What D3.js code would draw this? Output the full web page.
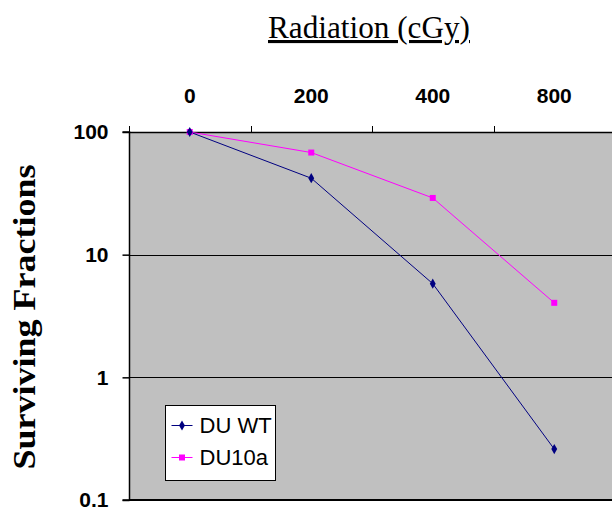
<!DOCTYPE html>
<html>
<head>
<meta charset="utf-8">
<script src="https://cdn.jsdelivr.net/npm/d3@7"></script>
<style>
  body { margin: 0; background: #fff; }
  svg { display: block; }
</style>
</head>
<body>
<div class="chart"></div>
<script>
// chart values
var doses = ["0", "200", "400", "800"];
var duWT = [100, 42, 5.8, 0.26];
var du10a = [100, 68, 29, 4.05];
var yTicks = [100, 10, 1, 0.1];

var width = 612, height = 510;
var margin = { top: 132, bottom: 10, left: 129, right: -3 };

var svg = d3.select(".chart").append("svg")
    .attr("width", width)
    .attr("height", height);

var x = d3.scaleBand()
    .domain(doses)
    .range([margin.left, width - margin.right]);

var y = d3.scaleLog()
    .domain([0.1, 100])
    .range([height - margin.bottom, margin.top]);

// plot background
svg.append("rect")
    .attr("x", margin.left)
    .attr("y", margin.top)
    .attr("width", width - margin.right - margin.left)
    .attr("height", height - margin.bottom - margin.top)
    .attr("fill", "#c0c0c0");

// gridlines
svg.append("g")
    .selectAll("line")
    .data([10, 1])
    .enter().append("line")
    .attr("x1", margin.left)
    .attr("x2", width)
    .attr("y1", d => Math.round(y(d)) + 0.5)
    .attr("y2", d => Math.round(y(d)) + 0.5)
    .attr("stroke", "#000")
    .attr("stroke-width", 1);

// top axis (categories)
var xAxis = d3.axisTop(x).tickSize(0).tickPadding(0);
var gx = svg.append("g")
    .attr("transform", `translate(0, ${margin.top})`)
    .call(xAxis);
gx.select(".domain").remove();
gx.selectAll("text")
    .attr("y", -29)
    .attr("font-family", "Liberation Sans, Arial, sans-serif")
    .attr("font-weight", "bold")
    .attr("font-size", 21)
    .attr("fill", "#000");
svg.append("line")
    .attr("x1", margin.left).attr("x2", width)
    .attr("y1", margin.top + 0.5).attr("y2", margin.top + 0.5)
    .attr("stroke", "#000").attr("stroke-width", 1.5);
svg.append("g")
    .selectAll("line")
    .data(doses)
    .enter().append("line")
    .attr("x1", d => Math.round(x(d)) + 0.5)
    .attr("x2", d => Math.round(x(d)) + 0.5)
    .attr("y1", margin.top)
    .attr("y2", margin.top - 6)
    .attr("stroke", "#000");

// left axis (log)
var yAxis = d3.axisLeft(y)
    .tickValues(yTicks)
    .tickFormat(d3.format("~g"))
    .tickSize(7)
    .tickPadding(14);
var gy = svg.append("g")
    .attr("transform", `translate(${margin.left + 0.5}, 0)`)
    .call(yAxis);
gy.select(".domain").attr("stroke-width", 1.5);
gy.selectAll("line").attr("stroke-width", 1.5);
gy.selectAll("text")
    .attr("font-family", "Liberation Sans, Arial, sans-serif")
    .attr("font-weight", "bold")
    .attr("font-size", 21)
    .attr("fill", "#000");
gy.select(".domain").attr("d", `M-7,${y(100)}H0V${y(0.1)}H-7`);

// bottom border
svg.append("line")
    .attr("x1", margin.left).attr("x2", width)
    .attr("y1", y(0.1)).attr("y2", y(0.1))
    .attr("stroke", "#000").attr("stroke-width", 2);

// series
var line = d3.line()
    .x((d, i) => x(doses[i]) + x.bandwidth() / 2)
    .y(d => y(d));

svg.append("path")
    .datum(du10a)
    .attr("fill", "none")
    .attr("stroke", "#ff00ff")
    .attr("stroke-width", 1)
    .attr("d", line);
svg.append("path")
    .datum(duWT)
    .attr("fill", "none")
    .attr("stroke", "#000080")
    .attr("stroke-width", 1)
    .attr("d", line);

svg.append("g")
    .selectAll("rect")
    .data(du10a)
    .enter().append("rect")
    .attr("x", (d, i) => x(doses[i]) + x.bandwidth() / 2 - 3)
    .attr("y", d => y(d) - 3)
    .attr("width", 6)
    .attr("height", 6)
    .attr("fill", "#ff00ff");

var diamond = d3.symbol().type(d3.symbolDiamond).size(30);
svg.append("g")
    .selectAll("path")
    .data(duWT)
    .enter().append("path")
    .attr("transform", (d, i) => `translate(${x(doses[i]) + x.bandwidth() / 2}, ${y(d)})`)
    .attr("d", diamond)
    .attr("fill", "#000080");

// legend
var legend = svg.append("g").attr("transform", "translate(165.5, 405.5)");
legend.append("rect")
    .attr("width", 110)
    .attr("height", 75)
    .attr("fill", "#fff")
    .attr("stroke", "#000")
    .attr("stroke-width", 1);
var items = [
    { name: "DU WT", color: "#000080", shape: "diamond", y: 20 },
    { name: "DU10a", color: "#ff00ff", shape: "square", y: 52 }
];
items.forEach(function (it) {
    legend.append("line")
        .attr("x1", 6).attr("x2", 27)
        .attr("y1", it.y).attr("y2", it.y)
        .attr("stroke", it.color).attr("stroke-width", 1);
    if (it.shape === "diamond") {
        legend.append("path")
            .attr("transform", `translate(16.5, ${it.y})`)
            .attr("d", diamond)
            .attr("fill", it.color);
    } else {
        legend.append("rect")
            .attr("x", 13.5).attr("y", it.y - 3)
            .attr("width", 6).attr("height", 6)
            .attr("fill", it.color);
    }
    legend.append("text")
        .attr("x", 34)
        .attr("y", it.y)
        .attr("dy", "0.35em")
        .attr("font-family", "Liberation Sans, Arial, sans-serif")
        .attr("font-size", 22)
        .attr("fill", "#000")
        .text(it.name);
});

// titles
svg.append("text")
    .attr("x", 369)
    .attr("y", 38)
    .attr("text-anchor", "middle")
    .attr("font-family", "Liberation Serif, Times New Roman, serif")
    .attr("font-size", 31)
    .attr("textLength", 202)
    .attr("lengthAdjust", "spacingAndGlyphs")
    .attr("text-decoration", "underline")
    .attr("fill", "#000")
    .text("Radiation (cGy)");

svg.append("text")
    .attr("transform", "translate(35, 317) rotate(-90)")
    .attr("text-anchor", "middle")
    .attr("font-family", "Liberation Serif, Times New Roman, serif")
    .attr("font-weight", "bold")
    .attr("font-size", 31)
    .attr("textLength", 305)
    .attr("lengthAdjust", "spacingAndGlyphs")
    .attr("fill", "#000")
    .text("Surviving Fractions");
</script>
</body>
</html>
